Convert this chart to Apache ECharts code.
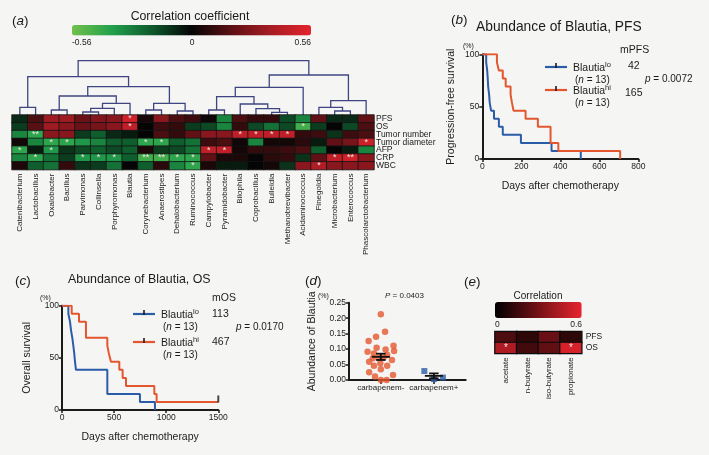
<!DOCTYPE html>
<html><head><meta charset="utf-8">
<script src="https://cdn.jsdelivr.net/npm/echarts@6/dist/echarts.min.js"></script>
<style>html,body{margin:0;padding:0;background:#f5f5f4;}#c{width:709px;height:455px;}</style>
</head><body><div id="c"></div>
<script>
// ================= DATA =================
// (a) correlation heatmap
const taxa = ['Catenibacterium','Lactobacillus','Oxalobacter','Bacillus','Parvimonas','Collinsella','Porphyromonas','Blautia','Corynebacterium','Anaerostipes','Dehalobacterium','Ruminococcus','Campylobacter','Pyramidobacter','Bilophila','Coprobacillus','Bulleidia','Methanobrevibacter','Acidaminococcus','Finegoldia','Microbacterium','Enterococcus','Phascolarctobacterium'];
const clinical = ['PFS','OS','Tumor number','Tumor diameter','AFP','CRP','WBC'];
const corrPFS      = [-0.08,0.15,0.35,0.35,0.22,0.28,0.30,0.50,0.04,0.30,0.15,0.12,0.02,-0.30,0.15,0.10,0.10,-0.15,-0.30,0.20,-0.08,-0.08,0.20];
const corrOS       = [-0.12,0.18,0.35,0.30,0.22,0.25,0.30,0.45,0.00,0.12,0.10,-0.12,-0.15,-0.30,0.10,-0.15,-0.25,-0.15,-0.45,-0.12,0.00,-0.15,0.15];
const corrTumorNum = [-0.30,-0.40,0.30,0.30,-0.12,-0.20,-0.08,-0.05,0.00,0.15,0.10,0.20,0.30,0.30,0.45,0.45,0.45,0.45,0.10,0.12,-0.10,0.12,0.15];
const corrTumorDia = [0.03,-0.30,-0.40,-0.40,-0.35,-0.30,-0.20,-0.20,-0.40,-0.40,-0.20,-0.25,0.12,0.15,0.02,-0.30,0.03,0.03,0.08,-0.05,0.20,0.25,0.48];
const corrAFP      = [-0.40,-0.05,-0.35,-0.10,-0.15,-0.20,-0.15,-0.20,0.05,-0.12,-0.15,-0.25,0.45,0.45,0.03,0.10,0.10,0.12,0.15,-0.20,0.00,-0.05,-0.30];
const corrCRP      = [-0.30,-0.40,-0.25,-0.12,-0.35,-0.35,-0.35,-0.20,-0.45,-0.45,-0.40,-0.40,0.20,0.05,0.05,0.00,0.08,0.10,-0.10,0.20,0.45,0.50,0.30];
const corrWBC      = [0.05,-0.20,-0.25,0.10,-0.10,-0.12,-0.25,0.00,-0.20,0.08,-0.30,-0.40,0.05,-0.05,-0.05,0.00,0.03,-0.10,0.30,0.40,0.30,0.30,0.30];
// significance marks: [row, column, mark]
const sigMarks = [[0,7,'*'],[1,7,'*'],[1,18,'*'],[2,1,'**'],[2,14,'*'],[2,15,'*'],[2,16,'*'],[2,17,'*'],
  [3,2,'*'],[3,3,'*'],[3,8,'*'],[3,9,'*'],[3,22,'*'],[4,0,'*'],[4,2,'*'],[4,12,'*'],[4,13,'*'],
  [5,1,'*'],[5,4,'*'],[5,5,'*'],[5,6,'*'],[5,8,'**'],[5,9,'**'],[5,10,'*'],[5,11,'*'],[5,20,'*'],[5,21,'**'],
  [6,11,'*'],[6,19,'*']];
const corrTicks = ['-0.56','0','0.56'];
// dendrogram merges: [childA, childB, height]; ids >= 23 are earlier merges
const merges = [[4,5,3],[16,17,2.7],[10,11,4],[20,21,4],[2,3,5],[8,9,5],[12,13,5],[15,24,6.3],[23,6,6.7],[0,1,7.7],
  [19,26,7.7],[14,30,11],[31,7,11.7],[28,25,11.7],[33,22,14.3],[29,34,18.3],[27,35,19],[38,18,27.7],[39,36,28.3],
  [32,41,38.3],[40,37,40],[42,43,54.3]];

// (b) PFS Kaplan-Meier  [day, %]
const pfsLo = [[0,100],[20,92.3],[25,84.6],[28,76.9],[30,69.2],[35,61.5],[38,53.8],[45,46.2],[60,38.5],[85,30.8],[105,23.1],[198,15.4],[355,7.7],[505,0]];
const pfsHi = [[0,100],[75,92.3],[85,84.6],[105,76.9],[120,69.2],[145,61.5],[152,53.8],[160,46.2],[222,38.5],[285,30.8],[350,15.4],[390,7.7],[707,0]];
// (c) OS Kaplan-Meier
const osLo = [[0,100],[61,92.3],[77,84.6],[86,76.9],[99,69.2],[109,61.5],[118,53.8],[125,46.2],[134,38.5],[435,15.4],[748,7.7],[892,0]];
const osHi = [[0,100],[93,92.3],[163,84.6],[230,69.2],[435,61.5],[451,53.8],[470,46.2],[550,38.5],[582,30.8],[614,23.1],[886,15.4],[908,7.7],[1500,7.7]];
const osHiCensor = [[1500,7.7]];

// (d) abundance dot plot [x position (jittered around group), abundance %]
const groups = ['carbapenem-','carbapenem+'];
const abundNeg = [[1.00,0.213],[1.08,0.156],[0.91,0.140],[0.77,0.126],[1.24,0.111],[0.92,0.104],[1.09,0.099],[0.75,0.091],[1.25,0.094],
  [0.87,0.086],[1.12,0.081],[0.97,0.073],[1.05,0.073],[0.85,0.070],[1.21,0.065],[0.78,0.059],[0.99,0.054],[1.12,0.046],[0.87,0.046],
  [1.00,0.035],[0.78,0.025],[1.23,0.016],[0.89,0.011],[1.00,0.000],[1.11,0.000]];
const abundPos = [[1.82,0.029],[2.00,0.003],[2.17,0.008]];

// (e) SCFA correlation
const scfa = ['acetate','n-butyrate','iso-butyrate','propionate'];
const scfaRows = ['PFS','OS'];
const scfaPFS = [0.20,0.12,0.27,0.12];
const scfaOS  = [0.45,0.17,0.25,0.55];
const scfaSig = [[1,0,'*'],[1,3,'*']];

// ================= CHART =================
const FONT = "'Liberation Sans', Arial, Helvetica, sans-serif";
const INK = '#1b1b1b';
const BLUE = '#2b5ca8', ORANGE = '#e4572e';
const chart = echarts.init(document.getElementById('c'), null, {renderer:'canvas', width:709, height:455});

const corrRows = [corrPFS,corrOS,corrTumorNum,corrTumorDia,corrAFP,corrCRP,corrWBC];
function markOf(list, r, c){ const m = list.find(s => s[0]===r && s[1]===c); return m ? m[2] : ''; }
const heatA = [];
corrRows.forEach((row, r) => row.forEach((v, c) => heatA.push([c, r, v, markOf(sigMarks, r, c)])));
const heatE = [];
[scfaPFS, scfaOS].forEach((row, r) => row.forEach((v, c) => heatE.push([c, r, v, markOf(scfaSig, r, c)])));

// dendrogram segments from merges
const dendro = (() => {
  const pos = [], hts = [], out = [];
  taxa.forEach((t, i) => { pos[i] = i; hts[i] = 0; });
  merges.forEach((m, k) => {
    const [a, b, h] = m, id = taxa.length + k;
    out.push([pos[a], pos[b], hts[a], hts[b], h]);
    pos[id] = (pos[a] + pos[b]) / 2; hts[id] = h;
  });
  return out;
})();

function meanSem(arr){
  const v = arr.map(d => d[1]); const n = v.length;
  const m = v.reduce((a,b)=>a+b,0)/n;
  const sd = Math.sqrt(v.reduce((a,b)=>a+(b-m)*(b-m),0)/(n-1));
  return [m, sd/Math.sqrt(n)];
}
const statsD = [[1, ...meanSem(abundNeg)], [2, ...meanSem(abundPos)]];

const axLine = {show:true, lineStyle:{color:INK, width:2}};
const axTick = {show:true, length:3, lineStyle:{color:INK, width:1.5}};
const axLab = {color:INK, fontSize:8.5, fontFamily:FONT, margin:3, formatter:v => String(v)};
const hidden = {show:false};

function kmX(grid, max, interval){
  return {type:'value', gridIndex:grid, min:0, max:max, interval:interval, axisLine:axLine, axisTick:axTick,
    axisLabel:axLab, splitLine:hidden, name:'Days after chemotherapy', nameLocation:'middle', nameGap:22,
    nameTextStyle:{color:INK, fontSize:10.5, fontFamily:FONT}};
}
function kmY(grid, name, gap){
  return {type:'value', gridIndex:grid, min:0, max:100, interval:50, axisLine:axLine, axisTick:axTick,
    axisLabel:axLab, splitLine:hidden, name:name, nameLocation:'middle', nameGap:gap,
    nameTextStyle:{color:INK, fontSize:10.5, fontFamily:FONT}};
}
function kmLine(name, data, color, xi){
  return {type:'line', name:name, xAxisIndex:xi, yAxisIndex:xi, data:data, step:'end', symbol:'none',
    lineStyle:{color:color, width:2}, itemStyle:{color:color}, z:3};
}

// text helpers
function T(x, y, text, size, opt){
  opt = opt || {};
  return {type:'text', x:x, y:y, z:10, style:Object.assign({text:text, fill:INK, fontSize:size, fontFamily:FONT,
    align:opt.align||'left', verticalAlign:opt.va||'middle'}, opt.rich ? {rich:opt.rich} : {})};
}
function L(x1, y1, x2, y2, color, w){
  return {type:'line', z:10, shape:{x1:x1,y1:y1,x2:x2,y2:y2}, style:{stroke:color, lineWidth:w}};
}
const richLeg = {
  a:{fontSize:10.5, fontFamily:FONT, color:INK, lineHeight:13, verticalAlign:'bottom'},
  s:{fontSize:7.5, fontFamily:FONT, color:INK, lineHeight:7, verticalAlign:'top'},
  i:{fontSize:10, fontFamily:FONT, color:INK, fontStyle:'italic'},
  t:{fontSize:10, fontFamily:FONT, color:INK}
};
const richLetter = {
  p:{fontSize:13.5, fontFamily:FONT, color:INK},
  i:{fontSize:13.5, fontFamily:FONT, color:INK, fontStyle:'italic'}
};
function letter(x, y, ch){ return T(x, y, '{p|(}{i|'+ch+'}{p|)}', 13.5, {rich:richLetter}); }
function legendBlock(x, y, color, sup){
  return [
    L(x, y, x+22, y, color, 2.2), L(x+11, y-4, x+11, y+1, INK, 1.6),
    T(x+28, y, '{a|Blautia}{s|'+sup+'}', 10.5, {rich:richLeg}),
    T(x+30, y+13, '{t|(}{i|n}{t| = 13)}', 10, {rich:richLeg})
  ];
}

const graphics = [
  letter(12, 21, 'a'), letter(451, 20, 'b'), letter(15, 281, 'c'), letter(305, 281, 'd'), letter(464, 282, 'e'),
  T(190, 17, 'Correlation coefficient', 12.3, {align:'center'}),
  T(72, 43, corrTicks[0], 8.5), T(192, 43, corrTicks[1], 8.5, {align:'center'}), T(311, 43, corrTicks[2], 8.5, {align:'right'}),
  // (b)
  T(476, 27, 'Abundance of Blautia, PFS', 13.8),
  T(463, 46.5, '(%)', 7),
  ...legendBlock(545, 67, BLUE, 'lo'), ...legendBlock(545, 90, ORANGE, 'hi'),
  T(620, 50, 'mPFS', 10.5), T(628, 66, '42', 10.5), T(625, 93, '165', 10.5),
  T(645, 79, '{i|p}{t| = 0.0072}', 10.5, {rich:richLeg}),
  // (c)
  T(68, 280, 'Abundance of Blautia, OS', 12.4),
  T(40, 298, '(%)', 7),
  ...legendBlock(133, 314, BLUE, 'lo'), ...legendBlock(133, 342, ORANGE, 'hi'),
  T(212, 298, 'mOS', 10.5), T(212, 314, '113', 10.5), T(212, 342, '467', 10.5),
  T(236, 327, '{i|p}{t| = 0.0170}', 10.5, {rich:richLeg}),
  // (d)
  T(318, 296, '(%)', 7),
  T(385, 296, '{i|P}{t| = 0.0403}', 8, {rich:{i:{fontSize:8,fontFamily:FONT,color:INK,fontStyle:'italic'},t:{fontSize:8,fontFamily:FONT,color:INK}}}),
  // (e)
  T(538, 296, 'Correlation', 10, {align:'center'}),
  T(495, 324.5, '0', 8.5), T(582, 324.5, '0.6', 8.5, {align:'right'})
];

const option = {
  backgroundColor:'#f5f5f4',
  animation:false,
  textStyle:{fontFamily:FONT},
  grid:[
    {left:12, top:58, width:362, height:57, outerBoundsMode:'none'},
    {left:12, top:115, width:362, height:54.6, outerBoundsMode:'none'},
    {left:482.3, top:54.3, width:156, height:104.7, outerBoundsMode:'none'},
    {left:62, top:305.7, width:156.3, height:104.3, outerBoundsMode:'none'},
    {left:349, top:302.7, width:116.7, height:77.3, outerBoundsMode:'none'},
    {left:495, top:331.7, width:86.7, height:21.6, outerBoundsMode:'none'}
  ],
  xAxis:[
    {type:'value', gridIndex:0, min:-0.5, max:22.5, show:false},
    {type:'category', gridIndex:1, data:taxa, axisLine:hidden, axisTick:hidden, splitLine:hidden,
      axisLabel:{rotate:90, interval:0, fontSize:8, color:INK, fontFamily:FONT, margin:4}},
    kmX(2, 800, 200),
    kmX(3, 1500, 500),
    {type:'value', gridIndex:4, min:0.4, max:2.6, axisLine:axLine, splitLine:hidden,
      axisTick:{show:true, length:4, lineStyle:{color:INK, width:1.5}, customValues:[1,2]},
      axisLabel:{fontSize:8, color:INK, fontFamily:FONT, margin:4, customValues:[1,2], formatter:v => groups[Math.round(v)-1] || ''}},
    {type:'category', gridIndex:5, data:scfa, axisLine:hidden, axisTick:hidden, splitLine:hidden,
      axisLabel:{rotate:90, interval:0, fontSize:8, color:INK, fontFamily:FONT, margin:4}}
  ],
  yAxis:[
    {type:'value', gridIndex:0, min:0, max:57, show:false},
    {type:'category', gridIndex:1, data:clinical, inverse:true, position:'right', axisLine:hidden, axisTick:hidden, splitLine:hidden,
      axisLabel:{interval:0, fontSize:8.5, color:INK, fontFamily:FONT, margin:2}},
    kmY(2, 'Progression-free survival', 26),
    kmY(3, 'Overall survival', 29),
    {type:'value', gridIndex:4, min:0, max:0.25, interval:0.05, axisLine:axLine, axisTick:axTick, splitLine:hidden,
      axisLabel:{fontSize:8.5, color:INK, fontFamily:FONT, margin:3, formatter:v => v.toFixed(2)},
      name:'Abundance of Blautia', nameLocation:'middle', nameGap:31, nameTextStyle:{color:INK, fontSize:10.5, fontFamily:FONT}},
    {type:'category', gridIndex:5, data:scfaRows, inverse:true, position:'right', axisLine:hidden, axisTick:hidden, splitLine:hidden,
      axisLabel:{interval:0, fontSize:8.5, color:INK, fontFamily:FONT, margin:4}}
  ],
  visualMap:[
    {type:'continuous', seriesIndex:1, dimension:2, min:-0.56, max:0.56, orient:'horizontal', left:72, top:25,
      itemWidth:10.5, itemHeight:239, calculable:false, hoverLink:false, text:null, padding:0, showLabel:false,
      inRange:{color:['#70c04a','#22a04c','#0e5a2c','#050505','#5c1014','#a81c24','#e3232b']}},
    {type:'continuous', seriesIndex:10, dimension:2, min:0, max:0.6, orient:'horizontal', left:495, top:302,
      itemWidth:16, itemHeight:86.7, calculable:false, hoverLink:false, text:null, padding:0, showLabel:false,
      inRange:{color:['#000000','#e8242e']}}
  ],
  series:[
    {type:'custom', xAxisIndex:0, yAxisIndex:0, data:dendro, encode:{x:[0,1], y:[2,3,4]}, silent:true,
      renderItem:(params, api) => {
        const xa = api.value(0), xb = api.value(1), ha = api.value(2), hb = api.value(3), h = api.value(4);
        const pts = [api.coord([xa, ha]), api.coord([xa, h]), api.coord([xb, h]), api.coord([xb, hb])];
        return {type:'polyline', shape:{points:pts}, style:{stroke:'#3f4580', lineWidth:1.3, fill:null}};
      }},
    {type:'heatmap', xAxisIndex:1, yAxisIndex:1, data:heatA,
      itemStyle:{borderColor:'#151515', borderWidth:0.8},
      label:{show:true, formatter:p => p.data[3], color:'#f1e3e3', fontSize:9, fontFamily:FONT}},
    kmLine('lo_b', pfsLo, BLUE, 2),
    kmLine('hi_b', pfsHi, ORANGE, 2),
    kmLine('lo_c', osLo, BLUE, 3),
    kmLine('hi_c', osHi, ORANGE, 3),
    {type:'scatter', xAxisIndex:3, yAxisIndex:3, data:osHiCensor, symbol:'rect', symbolSize:[2,7], symbolOffset:[0,-3],
      itemStyle:{color:INK}, z:4},
    {type:'scatter', xAxisIndex:4, yAxisIndex:4, data:abundNeg, symbol:'circle', symbolSize:6.5,
      itemStyle:{color:ORANGE}, z:3},
    {type:'scatter', xAxisIndex:4, yAxisIndex:4, data:abundPos, symbol:'rect', symbolSize:6,
      itemStyle:{color:BLUE}, z:3},
    {type:'custom', xAxisIndex:4, yAxisIndex:4, data:statsD, encode:{x:0, y:1}, z:5, silent:true,
      renderItem:(params, api) => {
        const x = api.value(0), m = api.value(1), s = api.value(2);
        const c = (a, b) => api.coord([a, b]);
        const seg = (p, q) => ({type:'line', shape:{x1:p[0], y1:p[1], x2:q[0], y2:q[1]}, style:{stroke:'#111', lineWidth:1.8}});
        const hw = 0.17, cw = 0.09;
        return {type:'group', children:[
          seg(c(x-hw, m), c(x+hw, m)), seg(c(x, m-s), c(x, m+s)),
          seg(c(x-cw, m+s), c(x+cw, m+s)), seg(c(x-cw, m-s), c(x+cw, m-s))
        ]};
      }},
    {type:'heatmap', xAxisIndex:5, yAxisIndex:5, data:heatE,
      itemStyle:{borderColor:'#0a0a0a', borderWidth:1.2},
      label:{show:true, formatter:p => p.data[3], color:'#f4dede', fontSize:10, fontFamily:FONT}}
  ],
  graphic:graphics
};
chart.setOption(option);
</script>
</body></html>
